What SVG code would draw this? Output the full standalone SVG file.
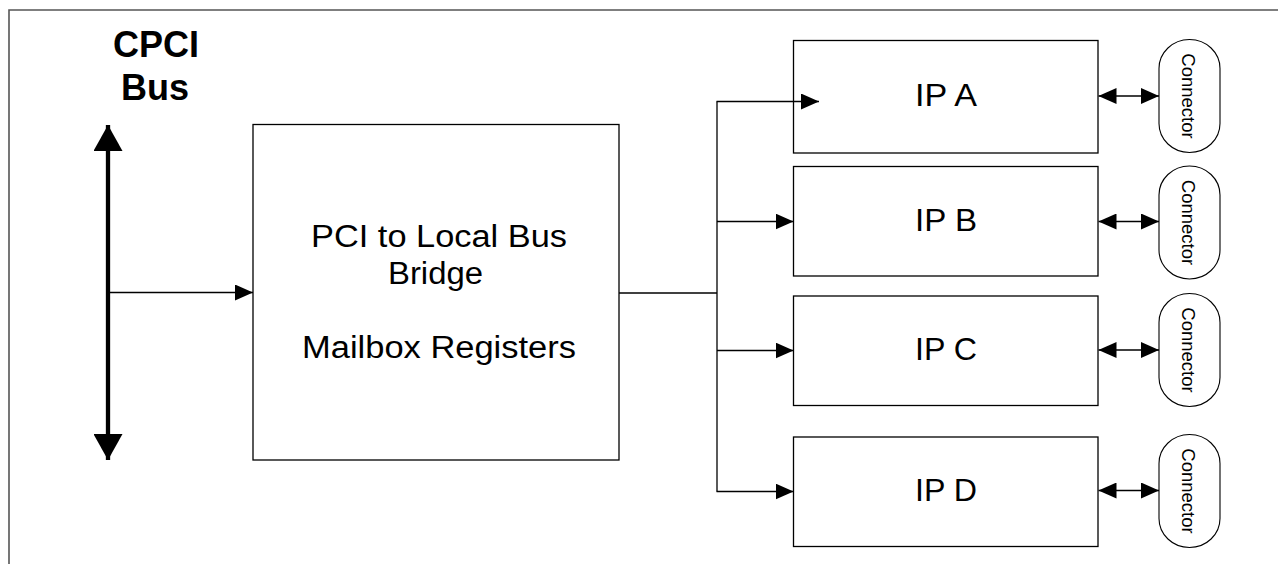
<svg xmlns="http://www.w3.org/2000/svg" width="1278" height="564" viewBox="0 0 1278 564">
  <style>
    .frame { fill: none; stroke: #555; stroke-width: 1.6; }
    .box { fill: #fff; stroke: #000; stroke-width: 1.3; }
    .pill { fill: #fff; stroke: #000; stroke-width: 1.1; }
    .wire { fill: none; stroke: #000; stroke-width: 1.3; }
    .bus { fill: none; stroke: #000; stroke-width: 4.3; }
    .lbl { font-family: "Liberation Sans", Arial, sans-serif; fill: #000; text-anchor: middle; }
    .big { font-size: 31px; }
    .title { font-size: 36px; font-weight: bold; }
    .conn { font-size: 18.5px; }
  </style>
  <defs>
    <marker id="head" viewBox="0 0 18 16" refX="18" refY="8" markerWidth="18" markerHeight="16" markerUnits="userSpaceOnUse" orient="auto-start-reverse">
      <path d="M0,0 L18,8 L0,16 z" fill="#000"/>
    </marker>
    <marker id="busHead" viewBox="0 0 26 29" refX="26" refY="14.5" markerWidth="26" markerHeight="29" markerUnits="userSpaceOnUse" orient="auto-start-reverse">
      <path d="M0,0 L26,14.5 L0,29 z" fill="#000"/>
    </marker>
  </defs>

  <!-- page frame (top and left edges) -->
  <path class="frame" d="M9,564 V10 H1278"/>

  <!-- bus title -->
  <g id="cpci-bus-label">
    <text class="lbl title" x="156" y="57">CPCI</text>
    <text class="lbl title" x="155" y="100">Bus</text>
  </g>

  <!-- bridge -->
  <g id="pci-bridge">
    <rect class="box" x="253" y="124.5" width="366" height="335.5"/>
    <text class="lbl big" x="439" y="246.5" textLength="256" lengthAdjust="spacingAndGlyphs">PCI to Local Bus</text>
    <text class="lbl big" x="435.5" y="283.5" textLength="95" lengthAdjust="spacingAndGlyphs">Bridge</text>
    <text class="lbl big" x="439" y="357.5" textLength="274" lengthAdjust="spacingAndGlyphs">Mailbox Registers</text>
  </g>

  <!-- IP modules -->
  <g id="ip-a">
    <rect class="box" x="793.5" y="40.5" width="304.5" height="112.5"/>
    <text class="lbl big" x="946" y="105.5" textLength="62" lengthAdjust="spacingAndGlyphs">IP A</text>
  </g>
  <g id="ip-b">
    <rect class="box" x="793.5" y="166.5" width="304.5" height="109.5"/>
    <text class="lbl big" x="946" y="230.5" textLength="62" lengthAdjust="spacingAndGlyphs">IP B</text>
  </g>
  <g id="ip-c">
    <rect class="box" x="793.5" y="296" width="304.5" height="109.5"/>
    <text class="lbl big" x="946" y="359.5" textLength="62" lengthAdjust="spacingAndGlyphs">IP C</text>
  </g>
  <g id="ip-d">
    <rect class="box" x="793.5" y="437" width="304.5" height="109.5"/>
    <text class="lbl big" x="946" y="501" textLength="62" lengthAdjust="spacingAndGlyphs">IP D</text>
  </g>

  <!-- field connectors -->
  <g id="connector-a">
    <rect class="pill" x="1159" y="39.5" width="61" height="113" rx="30.5" ry="29"/>
    <text class="lbl conn" transform="translate(1182,96) rotate(90)" x="0" y="0">Connector</text>
  </g>
  <g id="connector-b">
    <rect class="pill" x="1159" y="166" width="61" height="113" rx="30.5" ry="29"/>
    <text class="lbl conn" transform="translate(1182,222.5) rotate(90)" x="0" y="0">Connector</text>
  </g>
  <g id="connector-c">
    <rect class="pill" x="1159" y="293.5" width="61" height="113" rx="30.5" ry="29"/>
    <text class="lbl conn" transform="translate(1182,350) rotate(90)" x="0" y="0">Connector</text>
  </g>
  <g id="connector-d">
    <rect class="pill" x="1159" y="434.5" width="61" height="113" rx="30.5" ry="29"/>
    <text class="lbl conn" transform="translate(1182,491) rotate(90)" x="0" y="0">Connector</text>
  </g>

  <!-- connectors -->
  <g id="connectors">
    <!-- CPCI backplane bus -->
    <line class="bus" x1="108" y1="125" x2="108" y2="460" marker-start="url(#busHead)" marker-end="url(#busHead)"/>
    <!-- bus to bridge -->
    <line class="wire" x1="108" y1="292.5" x2="253" y2="292.5" marker-end="url(#head)"/>
    <!-- bridge to local bus trunk -->
    <line class="wire" x1="619" y1="293" x2="717" y2="293"/>
    <line class="wire" x1="717" y1="101.5" x2="717" y2="491.5"/>
    <!-- trunk to IP modules -->
    <line class="wire" x1="716.5" y1="101.5" x2="819" y2="101.5" marker-end="url(#head)"/>
    <line class="wire" x1="717" y1="221.5" x2="793.5" y2="221.5" marker-end="url(#head)"/>
    <line class="wire" x1="717" y1="350.5" x2="793.5" y2="350.5" marker-end="url(#head)"/>
    <line class="wire" x1="716.5" y1="491.5" x2="793.5" y2="491.5" marker-end="url(#head)"/>
    <!-- IP modules to field connectors -->
    <line class="wire" x1="1098.5" y1="96" x2="1159" y2="96" marker-start="url(#head)" marker-end="url(#head)"/>
    <line class="wire" x1="1098.5" y1="221.5" x2="1159" y2="221.5" marker-start="url(#head)" marker-end="url(#head)"/>
    <line class="wire" x1="1098.5" y1="350" x2="1159" y2="350" marker-start="url(#head)" marker-end="url(#head)"/>
    <line class="wire" x1="1098.5" y1="490.5" x2="1159" y2="490.5" marker-start="url(#head)" marker-end="url(#head)"/>
  </g>
</svg>
